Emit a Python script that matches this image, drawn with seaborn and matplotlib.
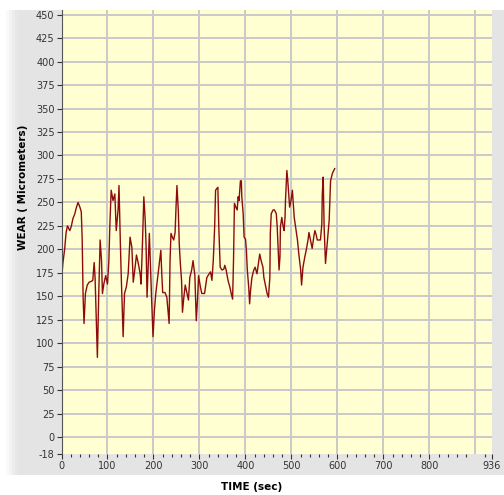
import numpy as np
import pandas as pd
import matplotlib
matplotlib.use("Agg")
import matplotlib.pyplot as plt
from matplotlib.patches import Rectangle
from matplotlib.ticker import FixedLocator
import seaborn as sns

# wear readings
time_sec = [0, 3, 7, 10, 13, 18, 21, 25, 29, 32, 36, 40, 43, 45, 47, 49, 52, 56, 60, 65,
            68, 71, 73, 76, 78, 81, 84, 87, 89, 92, 96, 100, 103, 105, 108, 112, 116, 119, 123, 125,
            128, 130, 134, 137, 141, 145, 149, 153, 156, 160, 163, 167, 171, 173, 176, 179, 182, 184, 186, 189,
            191, 193, 196, 199, 202, 205, 209, 213, 216, 218, 220, 225, 229, 231, 234, 236, 238, 241, 244, 247,
            249, 251, 254, 256, 258, 261, 263, 266, 269, 273, 276, 279, 283, 286, 290, 293, 296, 298, 302, 305,
            311, 316, 321, 324, 327, 330, 333, 335, 338, 340, 342, 345, 349, 353, 355, 358, 362, 366, 369, 372,
            374, 376, 379, 382, 384, 386, 389, 391, 392, 395, 397, 400, 402, 404, 407, 409, 411, 414, 418, 421,
            425, 429, 431, 434, 438, 440, 444, 447, 450, 453, 454, 456, 460, 463, 467, 469, 471, 473, 475, 476,
            479, 482, 484, 486, 487, 490, 492, 493, 496, 499, 502, 504, 506, 509, 513, 516, 520, 522, 525, 529,
            532, 536, 538, 542, 545, 549, 551, 554, 556, 560, 563, 566, 567, 569, 571, 574, 577, 579, 582, 585,
            589, 594]
wear_um = [167, 185, 201, 218, 225, 220, 224, 233, 238, 244, 250, 245, 240, 210, 149, 121, 153, 162, 165, 166,
           167, 186, 170, 121, 85, 153, 210, 188, 153, 163, 172, 163, 188, 224, 263, 252, 259, 220, 242, 268,
           206, 170, 107, 153, 160, 174, 213, 202, 165, 181, 194, 185, 174, 163, 206, 256, 231, 202, 149, 188,
           217, 188, 146, 107, 135, 153, 170, 188, 199, 174, 154, 154, 149, 138, 121, 188, 217, 213, 210, 218,
           245, 268, 241, 206, 188, 167, 133, 149, 162, 153, 146, 170, 178, 188, 172, 124, 149, 172, 160, 153,
           153, 170, 174, 176, 167, 188, 224, 263, 265, 266, 224, 181, 178, 179, 183, 178, 167, 160, 153, 147,
           188, 249, 245, 242, 256, 252, 273, 273, 256, 238, 213, 211, 199, 178, 160, 142, 156, 170, 178, 181,
           174, 188, 195, 188, 181, 170, 160, 153, 149, 170, 217, 238, 242, 242, 238, 224, 202, 178, 192, 224,
           234, 224, 220, 234, 252, 284, 273, 266, 245, 252, 263, 249, 234, 224, 210, 195, 178, 162, 181, 192,
           199, 210, 218, 208, 201, 215, 220, 215, 210, 210, 210, 227, 259, 277, 224, 185, 202, 213, 231, 273,
           281, 286]

y_ticks = [-18] + list(range(0, 451, 25))
x_ticks = [0, 100, 200, 300, 400, 500, 600, 700, 800, 936]

df = pd.DataFrame({"time": time_sec, "wear": wear_um})

fig = plt.figure(figsize=(5.04, 4.95), dpi=100)
fig.patch.set_facecolor("white")

# grey panel behind the graph, with a soft left edge
panel_left, panel_bottom, panel_top = 18 / 504, 1 - 475 / 495, 1 - 10 / 495
fig.patches.append(Rectangle((panel_left, panel_bottom), 1 - panel_left, panel_top - panel_bottom,
                             transform=fig.transFigure, facecolor="#e4e4e4", edgecolor="none", zorder=-2))
for i, c in enumerate(["#fafafa", "#f3f3f3", "#ececec", "#e7e7e7"]):
    fig.patches.append(Rectangle((panel_left - (4 - i) * 3 / 504, panel_bottom), 3 / 504, panel_top - panel_bottom,
                                 transform=fig.transFigure, facecolor=c, edgecolor="none", zorder=-2))

ax = fig.add_axes([61.5 / 504, 1 - 454 / 495, (492 - 61.5) / 504, (454 - 10) / 495])
ax.set_facecolor("#ffffd2")

sns.lineplot(data=df, x="time", y="wear", ax=ax, color="#8e0b0b", linewidth=1.0,
             estimator=None, sort=False)

ax.set_xlim(0, 936)
ax.set_ylim(-18, 455)

ax.set_yticks(y_ticks)
ax.set_yticklabels([str(v) for v in y_ticks])
ax.set_xticks(x_ticks)
ax.set_xticklabels([str(v) for v in x_ticks])
ax.xaxis.set_minor_locator(FixedLocator([v for v in range(20, 936, 20) if v % 100 != 0]))

# grid lines drawn by hand so the edge values get none
for v in range(100, 901, 100):
    ax.axvline(v, color="#c9c9c9", linewidth=1.4, zorder=0.5)
for v in range(0, 451, 25):
    ax.axhline(v, color="#c9c9c9", linewidth=1.4, zorder=0.5)

ax.tick_params(axis="both", which="major", labelsize=7, colors="#333333", direction="out", length=3.5, width=0.8)
ax.tick_params(axis="x", which="minor", direction="out", length=2, width=0.8, colors="#333333")
ax.tick_params(axis="y", pad=1.5)
ax.tick_params(axis="x", pad=1.5)

for side in ["top", "right", "bottom"]:
    ax.spines[side].set_visible(False)
ax.spines["left"].set_color("#555555")
ax.spines["left"].set_linewidth(0.8)

ax.set_xlabel("")
ax.set_ylabel("")
fig.text(0.5, 1 - 487 / 495, "TIME (sec)", ha="center", va="center", fontsize=7.5, fontweight="bold")
fig.text(23 / 504, 1 - 187 / 495, "WEAR ( Micrometers)", ha="center", va="center", rotation=90,
         fontsize=7.5, fontweight="bold")

fig.savefig("out.png", dpi=100, facecolor=fig.get_facecolor())
